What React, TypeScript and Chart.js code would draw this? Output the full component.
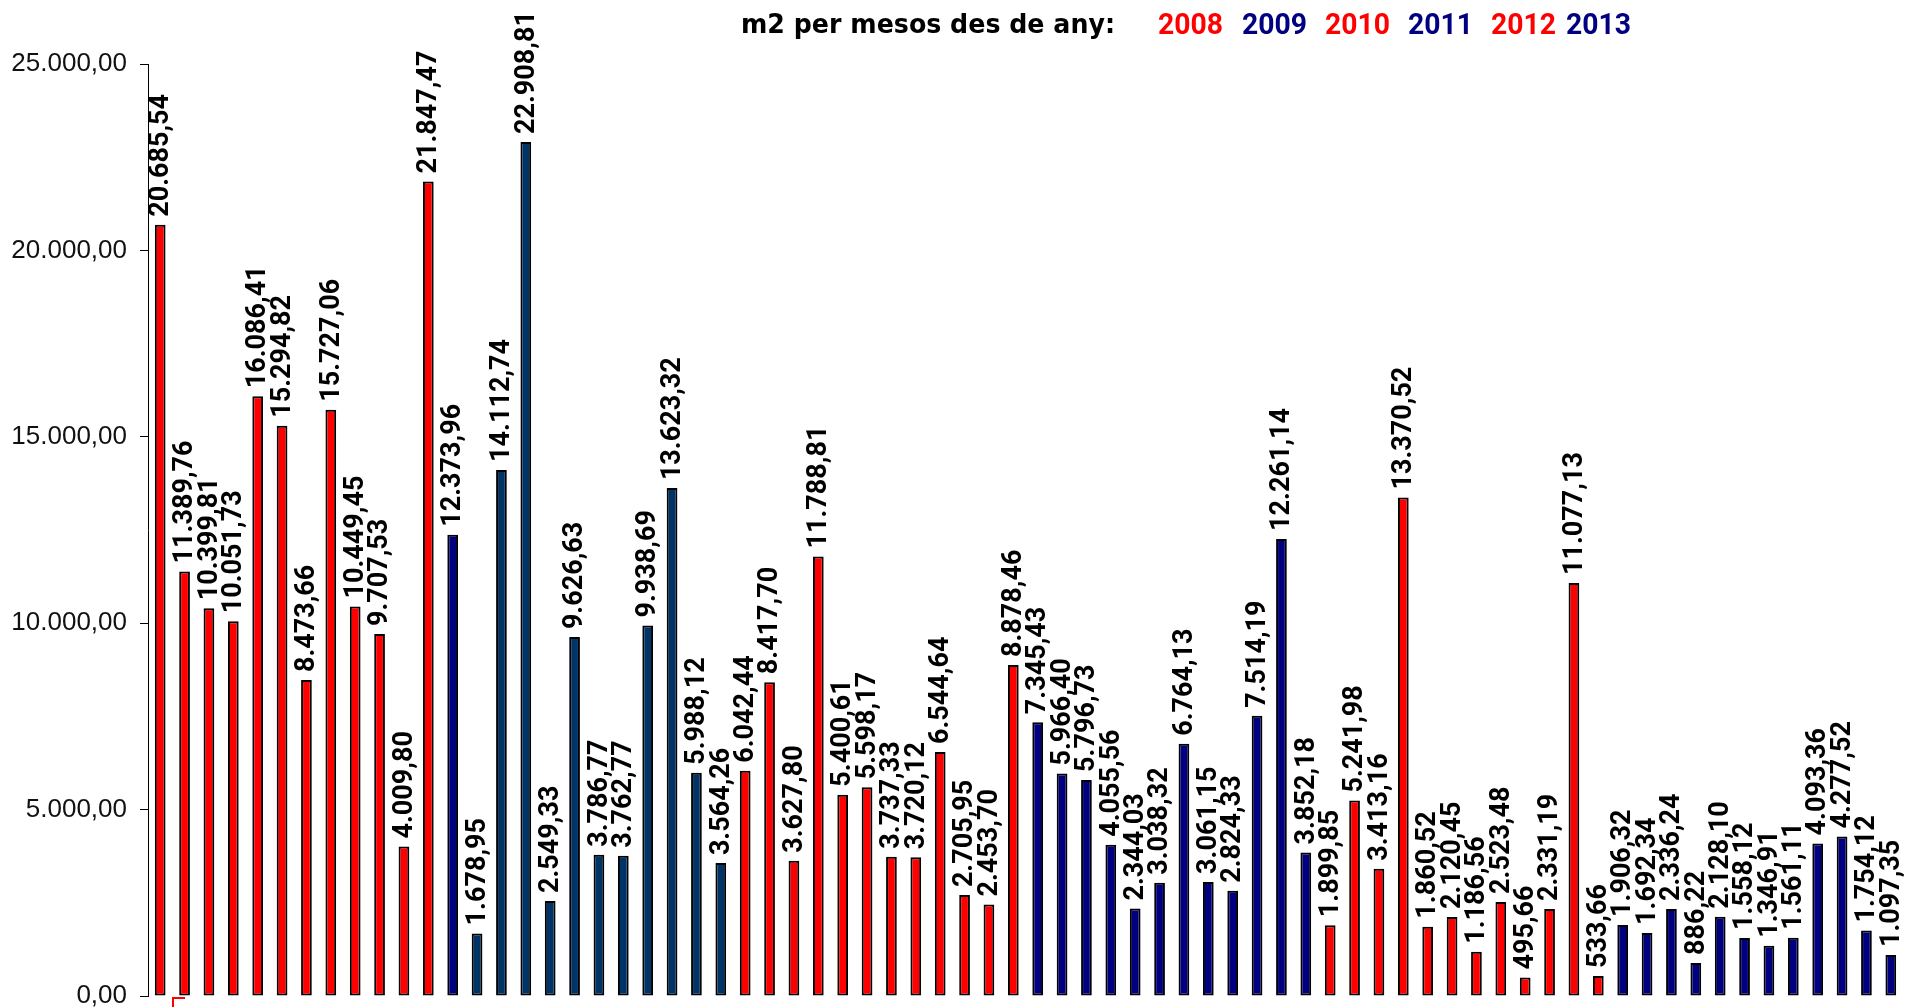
import React, { useEffect, useRef } from "react";
import { Chart, registerables } from "chart.js";

Chart.register(...registerables);

const months = ["gen", "feb", "mar", "abr", "mai", "jun", "jul", "ago", "set", "oct", "nov", "des"];
const years = ["2008", "2009", "2010", "2011", "2012", "2013"];

const values2008 = [20685.54, 11389.76, 10399.81, 10051.73, 16086.41, 15294.82, 8473.66, 15727.06, 10449.45, 9707.53, 4009.8, 21847.47];
const values2009 = [12373.96, 1678.95, 14112.74, 22908.81, 2549.33, 9626.63, 3786.77, 3762.77, 9938.69, 13623.32, 5988.12, 3564.26];
const values2010 = [6042.44, 8417.7, 3627.8, 11788.81, 5400.61, 5598.17, 3737.33, 3720.12, 6544.64, 2705.95, 2453.7, 8878.46];
const values2011 = [7345.43, 5966.4, 5796.73, 4055.56, 2344.03, 3038.32, 6764.13, 3061.15, 2824.33, 7514.19, 12261.14, 3852.18];
const values2012 = [1899.85, 5241.98, 3413.16, 13370.52, 1860.52, 2120.45, 1186.56, 2523.48, 495.66, 2331.19, 11077.13, 533.66];
const values2013 = [1906.32, 1692.34, 2336.24, 886.22, 2128.1, 1558.12, 1346.91, 1561.11, 4093.36, 4277.52, 1754.12, 1097.35];

const yTicks = [0, 5000, 10000, 15000, 20000, 25000];

const yearSeries = [values2008, values2009, values2010, values2011, values2012, values2013];

const RED = "#FF0000";
const NAVY = "#000080";
const DARK = "#003366";
const yearBarColors = [RED, DARK, RED, NAVY, RED, NAVY];
const yearTitleColors = [RED, NAVY, RED, NAVY, RED, NAVY];

function fmt(v: number): string {
  const [i, d] = v.toFixed(2).split(".");
  return i.replace(/\B(?=(\d{3})+(?!\d))/g, ".") + "," + d;
}

export default function App() {
  const ref = useRef<HTMLCanvasElement | null>(null);

  useEffect(() => {
    if (!ref.current) return;
    const labels: string[] = [];
    const data: number[] = [];
    const colors: string[] = [];
    yearSeries.forEach((vals, yi) => {
      vals.forEach((v, mi) => {
        labels.push(months[mi] + " " + years[yi]);
        data.push(v);
        // first month of 2009 drawn in navy in the original
        colors.push(yi === 1 && mi === 0 ? NAVY : yearBarColors[yi]);
      });
    });

    const labelPlugin = {
      id: "valueLabels",
      afterDatasetsDraw(chart: any) {
        const ctx = chart.ctx;
        const meta = chart.getDatasetMeta(0);
        ctx.save();
        ctx.font = "bold 27px Roboto";
        ctx.fillStyle = "#000";
        ctx.textAlign = "left";
        ctx.textBaseline = "middle";
        meta.data.forEach((bar: any, i: number) => {
          ctx.save();
          ctx.translate(bar.x + 1, bar.y - 8);
          ctx.rotate(-Math.PI / 2);
          ctx.fillText(fmt(data[i]), 0, 0);
          ctx.restore();
        });
        ctx.restore();
      },
    };

    const titlePlugin = {
      id: "multiTitle",
      afterDraw(chart: any) {
        const ctx = chart.ctx;
        ctx.save();
        ctx.textAlign = "left";
        ctx.textBaseline = "alphabetic";
        ctx.fillStyle = "#000";
        ctx.font = "bold 26px 'DejaVu Sans'";
        ctx.fillText("m2 per mesos des de any:", 741, 33, 374);
        const xs = [1158, 1242, 1325, 1408, 1491, 1566];
        ctx.font = "bold 29px Roboto";
        years.forEach((y, i) => {
          ctx.fillStyle = yearTitleColors[i];
          ctx.fillText(y, xs[i], 34, 65);
        });
        // small red selection corner below the axis
        ctx.strokeStyle = RED;
        ctx.lineWidth = 2;
        ctx.beginPath();
        ctx.moveTo(173, 1007);
        ctx.lineTo(173, 998);
        ctx.lineTo(185, 998);
        ctx.stroke();
        ctx.restore();
      },
    };

    const chart = new Chart(ref.current, {
      type: "bar",
      data: {
        labels,
        datasets: [
          {
            data,
            backgroundColor: colors,
            borderColor: "#000",
            borderWidth: 2,
            borderSkipped: false,
            categoryPercentage: 1,
            barPercentage: 0.44,
          },
        ],
      },
      options: {
        animation: false,
        responsive: true,
        maintainAspectRatio: false,
        layout: { padding: { top: 64, bottom: 11, left: 0, right: 3 } },
        plugins: {
          legend: { display: false },
          tooltip: { enabled: false },
          title: { display: false },
        },
        scales: {
          x: {
            display: false,
          },
          y: {
            min: 0,
            max: 25000,
            afterFit: (scale: any) => {
              scale.width = 148;
              scale.paddingTop = 0;
              scale.paddingBottom = 0;
            },
            afterBuildTicks: (scale: any) => {
              scale.ticks = yTicks.map((v) => ({ value: v }));
            },
            border: { display: true, color: "#000", width: 1 },
            grid: {
              drawOnChartArea: false,
              drawTicks: true,
              tickLength: 8,
              color: "#000",
            },
            ticks: {
              padding: 13,
              color: "#111",
              font: { family: "'Liberation Sans', Arial, sans-serif", size: 26 },
              callback: (v: any) => fmt(Number(v)),
            },
          },
        },
      },
      plugins: [labelPlugin, titlePlugin],
    });
    return () => chart.destroy();
  }, []);

  return (
    <div style={{ position: "fixed", left: 0, top: 0, width: "1906px", height: "1007px", background: "#fff" }}>
      <canvas ref={ref} />
    </div>
  );
}
